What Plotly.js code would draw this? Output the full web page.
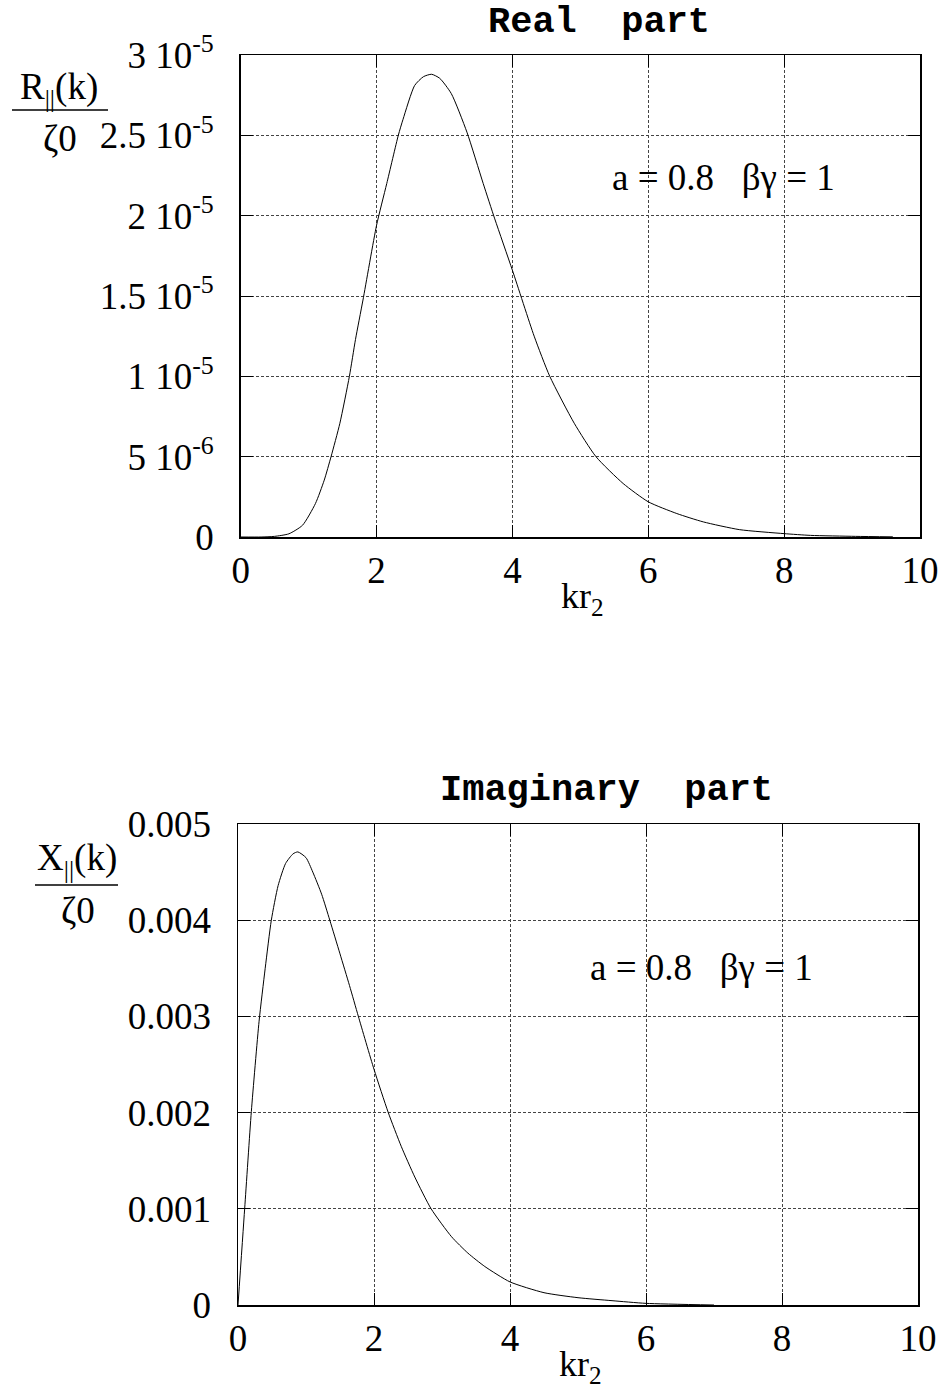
<!DOCTYPE html>
<html>
<head>
<meta charset="utf-8">
<script src="https://cdn.plot.ly/plotly-3.0.1.min.js"></script>
<style>
  html, body { margin: 0; padding: 0; background: #fff; }
  #chart { width: 942px; height: 1391px; }
</style>
</head>
<body>
<div id="chart"></div>
<script>
// Longitudinal impedance, a = 0.8, βγ = 1, versus k·r2

// Real part  R||(k)/ζ0
const realK = [0, 0.3, 0.5, 0.71, 0.91, 1.10, 1.23, 1.33, 1.46, 1.60, 1.69, 1.80, 2.0, 2.15, 2.32, 2.39,
               2.56, 2.69, 2.81, 2.93, 3.10, 3.33, 3.57, 3.74, 4.0, 4.32, 4.55, 4.91, 5.23,
               5.63, 6.0, 6.42, 6.81, 7.34, 8.0, 8.39, 9.05, 9.6];
const realR = [0, 0, 0.04e-6, 0.2e-6, 0.73e-6, 2.08e-6, 3.54e-6, 5.0e-6, 7.08e-6, 10.0e-6, 12.3e-6, 14.75e-6,
               19.4e-6, 22.0e-6, 25.0e-6, 26.0e-6, 28.1e-6, 28.65e-6, 28.8e-6, 28.55e-6, 27.6e-6, 25.2e-6,
               22.0e-6, 19.8e-6, 16.6e-6, 12.5e-6, 10.0e-6, 7.08e-6, 5.0e-6, 3.33e-6, 2.19e-6,
               1.46e-6, 0.94e-6, 0.46e-6, 0.21e-6, 0.1e-6, 0.04e-6, 0.01e-6];

// Imaginary part  X||(k)/ζ0
const imagK = [0, 0.098, 0.196, 0.31, 0.40, 0.49, 0.59, 0.70, 0.81, 0.88, 1.0, 1.10, 1.23, 1.35, 1.50,
               1.64, 1.77, 2.0, 2.21, 2.40, 2.60, 2.84, 3.14, 3.38, 3.63, 4.0, 4.5, 5.0, 5.5, 6.0, 7.0];
const imagX = [0, 0.00100, 0.00201, 0.00295, 0.00350, 0.00400, 0.00436, 0.00459, 0.00469, 0.00471, 0.00465,
               0.00450, 0.00427, 0.00400, 0.00365, 0.00332, 0.00300, 0.00245, 0.00200, 0.00165, 0.00133,
               0.00100, 0.00071, 0.00054, 0.00040, 0.00024, 0.000128, 0.000076, 0.000045, 0.000017, 0];

// Axis ticks
const kTicks = [0, 2, 4, 6, 8, 10];
const kTickText = ['0', '2', '4', '6', '8', '10'];
const realTicks = [0, 5e-6, 1e-5, 1.5e-5, 2e-5, 2.5e-5, 3e-5];
const realTickText = ['0', '5 10<sup>-6</sup>', '1 10<sup>-5</sup>', '1.5 10<sup>-5</sup>',
                      '2 10<sup>-5</sup>', '2.5 10<sup>-5</sup>', '3 10<sup>-5</sup>'];
const imagTicks = [0, 0.001, 0.002, 0.003, 0.004, 0.005];
const imagTickText = ['0', '0.001', '0.002', '0.003', '0.004', '0.005'];

// Text
const titles = ['Real  part', 'Imaginary  part'];
const paramText = 'a = 0.8   βγ = 1';
const xLabel = 'kr<sub>2</sub>';
const realNum = 'R<sub>||</sub>(k)';
const imagNum = 'X<sub>||</sub>(k)';
const denom = 'ζ0';

// page-pixel helpers for layout placement
const W = 942, H = 1391;
const fx = p => p / W;
const fy = p => 1 - p / H;

const SERIF = 'Liberation Serif, Times New Roman, serif';
const MONO = 'Liberation Mono, Courier New, monospace';
const TICK = 37;

function xAxis(dom, anchor) {
  return {
    domain: dom, anchor: anchor, range: [0, 10],
    tickvals: kTicks, ticktext: kTickText,
    ticks: 'inside', ticklen: 12, tickwidth: 1, tickcolor: '#000',
    showline: true, linecolor: '#000', linewidth: 1.5, mirror: 'ticks',
    showgrid: true, gridcolor: '#444', gridwidth: 1, griddash: '3px,2px',
    zeroline: false, ticklabelstandoff: 0,
    tickfont: {family: SERIF, size: TICK, color: '#000'}
  };
}
function yAxis(dom, anchor, range, vals, text) {
  return {
    domain: dom, anchor: anchor, range: range,
    tickvals: vals, ticktext: text,
    ticks: 'inside', ticklen: 12, tickwidth: 1, tickcolor: '#000',
    showline: true, linecolor: '#000', linewidth: 1.5, mirror: 'ticks',
    showgrid: true, gridcolor: '#444', gridwidth: 1, griddash: '3px,2px',
    zeroline: false, ticklabelstandoff: 18,
    tickfont: {family: SERIF, size: TICK, color: '#000'}
  };
}

const traces = [
  {x: realK, y: realR, xaxis: 'x', yaxis: 'y', type: 'scatter', mode: 'lines',
   line: {color: '#000', width: 1, shape: 'spline', smoothing: 0.6}, hoverinfo: 'skip'},
  {x: imagK, y: imagX, xaxis: 'x2', yaxis: 'y2', type: 'scatter', mode: 'lines',
   line: {color: '#000', width: 1, shape: 'spline', smoothing: 0.6}, hoverinfo: 'skip'}
];

function txt(text, x, y, size, family, weight) {
  return {
    text: text, xref: 'paper', yref: 'paper', x: fx(x), y: fy(y),
    xanchor: 'center', yanchor: 'middle', showarrow: false,
    font: {family: family, size: size, color: '#000', weight: weight || 'normal'}
  };
}

const annotations = [
  txt(titles[0], 599, 22, 37, MONO, 'bold'),
  txt(titles[1], 606, 790, 37, MONO, 'bold'),
  txt(paramText, 723, 178, 37, SERIF),
  txt(paramText, 701, 968, 37, SERIF),
  txt(xLabel, 582, 598, 36, SERIF),
  txt(xLabel, 580, 1366, 36, SERIF),
  txt(realNum, 59, 90, 37, SERIF),
  txt(denom, 60, 138, 37, SERIF),
  txt(imagNum, 77, 860, 37, SERIF),
  txt(denom, 78, 910, 37, SERIF)
];

const shapes = [
  {type: 'line', xref: 'paper', yref: 'paper', x0: fx(12), x1: fx(108), y0: fy(110), y1: fy(110),
   line: {color: '#000', width: 1.5}},
  {type: 'line', xref: 'paper', yref: 'paper', x0: fx(35), x1: fx(118), y0: fy(885), y1: fy(885),
   line: {color: '#000', width: 1.5}}
];

const layout = {
  width: W, height: H,
  margin: {l: 0, r: 0, t: 0, b: 0},
  paper_bgcolor: '#fff', plot_bgcolor: '#fff',
  showlegend: false,
  xaxis: xAxis([fx(240.7), fx(920)], 'y'),
  yaxis: yAxis([fy(537), fy(55)], 'x', [0, 3e-5], realTicks, realTickText),
  xaxis2: xAxis([fx(238), fx(918)], 'y2'),
  yaxis2: yAxis([fy(1305), fy(824)], 'x2', [0, 0.005], imagTicks, imagTickText),
  annotations: annotations,
  shapes: shapes
};

Plotly.newPlot('chart', traces, layout, {staticPlot: true, displayModeBar: false});
</script>
</body>
</html>
